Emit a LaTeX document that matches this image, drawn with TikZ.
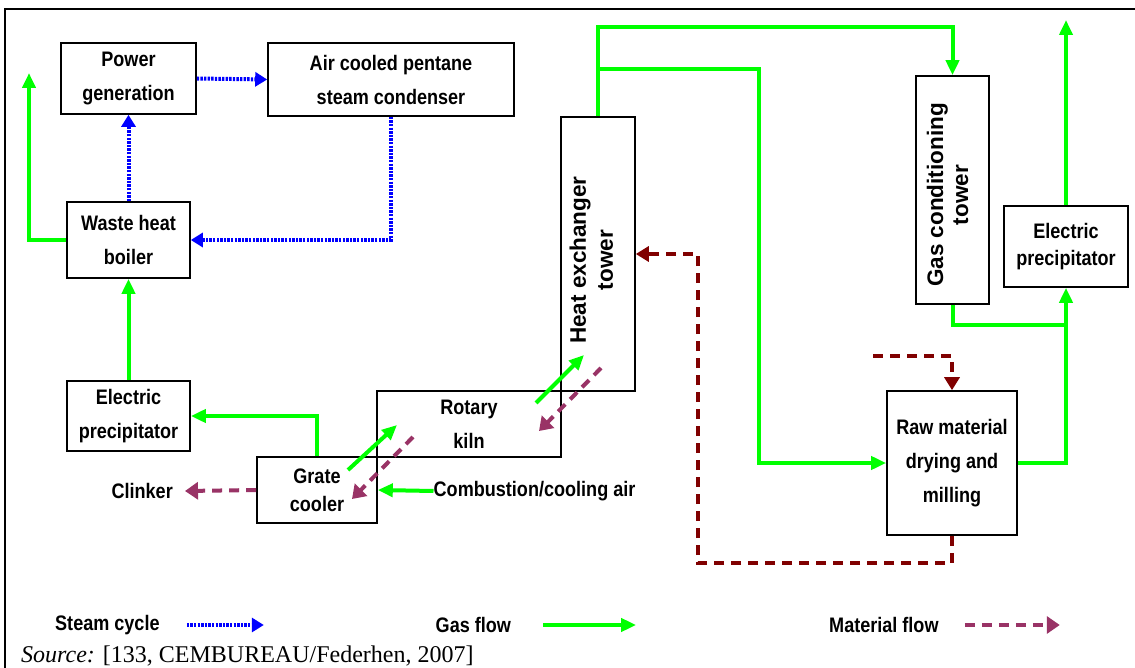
\documentclass[tikz,border=0pt]{standalone}
\usepackage{fontspec}
\usepackage{graphicx}
\usepackage{tikz}
\usetikzlibrary{arrows.meta,calc}
\setmainfont{Liberation Serif}
\newfontfamily\labfont[FakeStretch=0.86]{Liberation Sans}
\newfontfamily\towfont{Liberation Sans}
\definecolor{cblue}{HTML}{0000FF}
\definecolor{cgreen}{HTML}{00FF00}
\definecolor{cbrown}{HTML}{800000}
\definecolor{cmauve}{HTML}{993366}

\begin{document}
\begin{tikzpicture}[x=1pt,y=-1pt,
  box/.style={draw=black,line width=1.6pt,inner sep=0pt,align=center,
    font=\labfont\bfseries\fontsize{21}{34}\selectfont},
  lab/.style={inner sep=0pt,font=\labfont\bfseries\fontsize{21}{25}\selectfont},
  steam/.style={cblue,line width=4pt,dash pattern=on 2.4pt off 1.2pt,-{Triangle[length=12pt,width=14pt]}},
  gas/.style={cgreen,line width=4pt,-{Triangle[length=15pt,width=13pt]}},
  gasline/.style={cgreen,line width=4pt},
  recyc/.style={cbrown,line width=4pt,dash pattern=on 10pt off 7pt,-{Triangle[length=13pt,width=15pt]}},
  mat/.style={cmauve,line width=4pt,dash pattern=on 10pt off 7pt,-{Triangle[length=13pt,width=17pt]}}]
\useasboundingbox (0,0) rectangle (1135,668);
\draw[line width=2pt] (5,668) -- (5,9) -- (1135,9);   % frame

% ================= steam cycle =================
\node[box,minimum width=135,minimum height=71] (pgen) at (128.5,78.5) {Power\\generation};
\node[box,minimum width=246,minimum height=73] (cond) at (391,79.5) {Air cooled pentane\\steam condenser};
\node[box,minimum width=123,minimum height=76] (boiler) at (128.5,240) {Waste heat\\boiler};
\draw[steam] (pgen.east) -- (cond.west);
\draw[steam] (boiler.north) -- (pgen.south);
\draw[steam] (cond.south) |- (boiler.east);

% ================= kiln line =================
\node[box,minimum width=123,minimum height=70] (epl) at (128.5,416) {Electric\\precipitator};
\node[box,minimum width=120,minimum height=66,
  font=\labfont\bfseries\fontsize{21}{28}\selectfont] (cooler) at (317,490) {Grate\\cooler};
\node[box,minimum width=184,minimum height=66] (kiln) at (469,424) {Rotary\\kiln};
\node[box,minimum width=74,minimum height=274] (hex) at (598,254)
  {\rotatebox{90}{\towfont\bfseries\fontsize{22.5}{27}\selectfont
   \hspace*{-6pt}\raisebox{4pt}[\height][\depth]{\begin{tabular}{@{}c@{}}Heat exchanger\\tower\end{tabular}}\hspace*{6pt}}};
\node[lab,anchor=east] (clinker) at (173,491) {Clinker};
\node[lab,anchor=west] (comb) at (433.5,491) {Combustion/cooling air};
\coordinate (out1) at (29,73);
\draw[gas] (boiler.west) -| (out1);
\draw[gas] (epl.north) -- (boiler.south);
\draw[gas] (cooler.north) |- (epl.east);
\draw[gas] (comb.west) -- (cooler.east);
\draw[mat] (cooler.west) -- ([xshift=12pt]clinker.east);
% gas and material crossing between cooler, kiln and tower
\coordinate (g1a) at (348,470); \coordinate (g1b) at (397,425);
\coordinate (m1a) at (413,437); \coordinate (m1b) at (352,499);
\coordinate (g2a) at (536,403); \coordinate (g2b) at (584,355);
\coordinate (m2a) at (601,368); \coordinate (m2b) at (539,431);
\draw[gas] (g1a) -- (g1b);
\draw[mat] (m1a) -- (m1b);
\draw[gas] (g2a) -- (g2b);
\draw[mat] (m2a) -- (m2b);

% ================= raw mill and gas cleaning =================
\node[box,minimum width=73,minimum height=228] (gct) at (952.5,190)
  {\rotatebox{90}{\towfont\bfseries\fontsize{22.5}{25}\selectfont
   \hspace*{-5pt}\raisebox{2pt}[\height][\depth]{\begin{tabular}{@{}c@{}}Gas conditioning\\tower\end{tabular}}\hspace*{5pt}}};
\node[box,minimum width=124,minimum height=81,
  font=\labfont\bfseries\fontsize{21}{27}\selectfont] (epr) at (1066,246.5) {Electric\\precipitator};
\node[box,minimum width=130,minimum height=144] (raw) at (952,463) {Raw material\\drying and\\milling};
\coordinate (out2) at (1066,20);
\coordinate (feed) at (873,356);
\draw[gas] (hex.north) |- (gct.north |- 0,27) -- (gct.north);
\draw[gas] (hex.north |- 0,69) -- (759,69) |- (raw.west);
\draw[gasline] (gct.south) |- (epr.south |- 0,325);
\draw[gas] (raw.east) -| (epr.south);
\draw[gas] (epr.north) -- (out2);
\draw[recyc] (feed) -| (raw.north);
\draw[recyc] (raw.south) |- (698,563) |- (hex.east);

% ================= legend =================
\node[lab,anchor=west] (lsteam) at (55,625) {Steam cycle};
\node[lab,anchor=west] (lgas) at (435.5,625) {Gas flow};
\node[lab,anchor=west] (lmat) at (829,625) {Material flow};
\draw[steam] ([xshift=27pt]lsteam.east) -- ++(77,0);
\draw[gas] ([xshift=32pt]lgas.east) -- ++(93,0);
\draw[mat] ([xshift=26pt]lmat.east) -- ++(95,0);
\node[anchor=base west,inner sep=0pt,font=\fontsize{24}{28}\selectfont] (src) at (21,662)
  {\textit{Source:} [133, CEMBUREAU/Federhen, 2007]};
\end{tikzpicture}
\end{document}
